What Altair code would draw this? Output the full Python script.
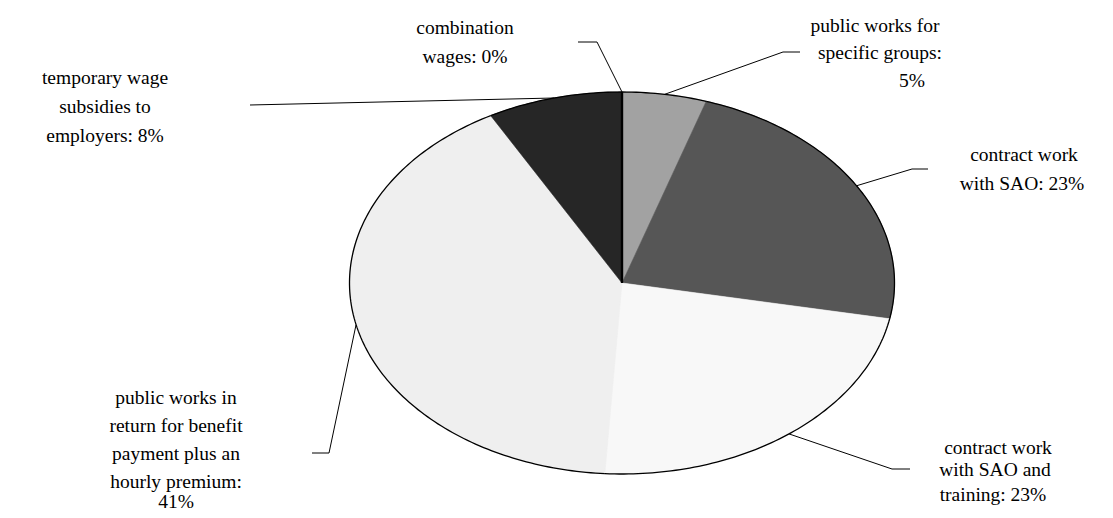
import math
import altair as alt
import pandas as pd

# ---------------- data ----------------
names = [
    "combination wages",
    "public works for specific groups",
    "contract work with SAO",
    "contract work with SAO and training",
    "public works in return for benefit payment plus an hourly premium",
    "temporary wage subsidies to employers",
]
values = [0, 5, 23, 23, 41, 8]
label_lines = [
    ["combination", "wages: 0%"],
    ["public works for", "specific groups:", "5%"],
    ["contract work", "with SAO: 23%"],
    ["contract work", "with SAO and", "training: 23%"],
    ["public works in", "return for benefit", "payment plus an", "hourly premium:", "41%"],
    ["temporary wage", "subsidies to", "employers: 8%"],
]

# ---------------- styles / layout ----------------
fill_colors = ["#000000", "#a2a2a2", "#565656", "#f8f8f8", "#efefef", "#262626"]
edge_colors = ["#000000", "#a2a2a2", "#565656", "#f8f8f8", "#efefef", "#262626"]
W, H = 1113, 518
CX, CY, RX, RY = 622, 283, 272.5, 191
FONT = "'Liberation Serif', 'Times New Roman', Times, serif"
label_x = [[465, 465], [875, 880, 912], [1024, 1022], [998, 995, 993],
           [176] * 5, [105, 105, 105]]
label_baseline = [[34, 63], [31.5, 58.5, 87], [161, 190], [454, 476, 501],
                  [404, 432, 460, 488, 508], [84, 113, 142]]
leader_elbow = [(597, 42), (783, 52), (912, 169), (892, 469), (329, 453), None]
leader_end = [(578, 42), (800, 52), (928, 169), (910, 469), (312, 453), (250, 105)]


def ell(t_deg):
    t = math.radians(t_deg)
    return CX + RX * math.sin(t), CY - RY * math.cos(t)


total = float(sum(values))
slice_rows, outline_rows, leader_rows, text_rows = [], [], [], []
cum = 0.0
for i, (n, v) in enumerate(zip(names, values)):
    a0 = 360.0 * cum / total
    a1 = 360.0 * (cum + v) / total
    steps = max(1, int(math.ceil(a1 - a0)))
    arc = [ell(a0 + (a1 - a0) * k / steps) for k in range(steps + 1)]
    poly = [(CX, CY)] + arc + [(CX, CY)]
    for k, (x, y) in enumerate(poly):
        slice_rows.append({"slice": n, "v": v, "k": k, "x": x, "y": y})
    for k, (x, y) in enumerate(arc):
        outline_rows.append({"slice": n, "k": k, "x": x, "y": y})
    mx, my = ell((a0 + a1) / 2)
    pts = [(mx, my)]
    if leader_elbow[i] is not None:
        pts.append(leader_elbow[i])
    pts.append(leader_end[i])
    for k, (x, y) in enumerate(pts):
        leader_rows.append({"slice": n, "k": k, "x": x, "y": y})
    for j, line in enumerate(label_lines[i]):
        text_rows.append({"text": line, "x": label_x[i][j], "y": label_baseline[i][j]})
    cum += v

xs = alt.Scale(domain=[0, W], nice=False, zero=False)
ys = alt.Scale(domain=[0, H], reverse=True, nice=False, zero=False)
X = alt.X("x:Q", scale=xs, axis=None)
Y = alt.Y("y:Q", scale=ys, axis=None)

slice_df = pd.DataFrame(slice_rows)

slices = alt.Chart(slice_df).mark_line(interpolate="linear", strokeWidth=0.6).encode(
    x=X, y=Y,
    order=alt.Order("k:Q"),
    fill=alt.Fill("slice:N", scale=alt.Scale(domain=names, range=fill_colors), legend=None),
    stroke=alt.Stroke("slice:N", scale=alt.Scale(domain=names, range=edge_colors), legend=None),
)

outline = alt.Chart(pd.DataFrame(outline_rows)).mark_line(
    stroke="#000000", strokeWidth=1.3
).encode(x=X, y=Y, order=alt.Order("k:Q"), detail="slice:N")

# zero-size slices collapse to a single radius, drawn as a heavy line on top
zero_slices = alt.Chart(slice_df).transform_filter("datum.v == 0").mark_line(
    stroke="#000000", strokeWidth=2.4
).encode(x=X, y=Y, order=alt.Order("k:Q"), detail="slice:N")

leaders = alt.Chart(pd.DataFrame(leader_rows)).mark_line(
    stroke="#000000", strokeWidth=1
).encode(x=X, y=Y, order=alt.Order("k:Q"), detail="slice:N")

texts = alt.Chart(pd.DataFrame(text_rows)).mark_text(
    align="center", baseline="alphabetic", font=FONT,
    fontSize=19.5, color="#000000"
).encode(x=X, y=Y, text="text:N")

chart = alt.layer(slices, outline, zero_slices, leaders, texts).properties(
    width=W, height=H,
    autosize=alt.AutoSizeParams(type="none"),
    padding=0,
    background="#ffffff",
).configure_view(stroke=None)

chart.save("out.html", embed_options={"renderer": "svg", "actions": False})
